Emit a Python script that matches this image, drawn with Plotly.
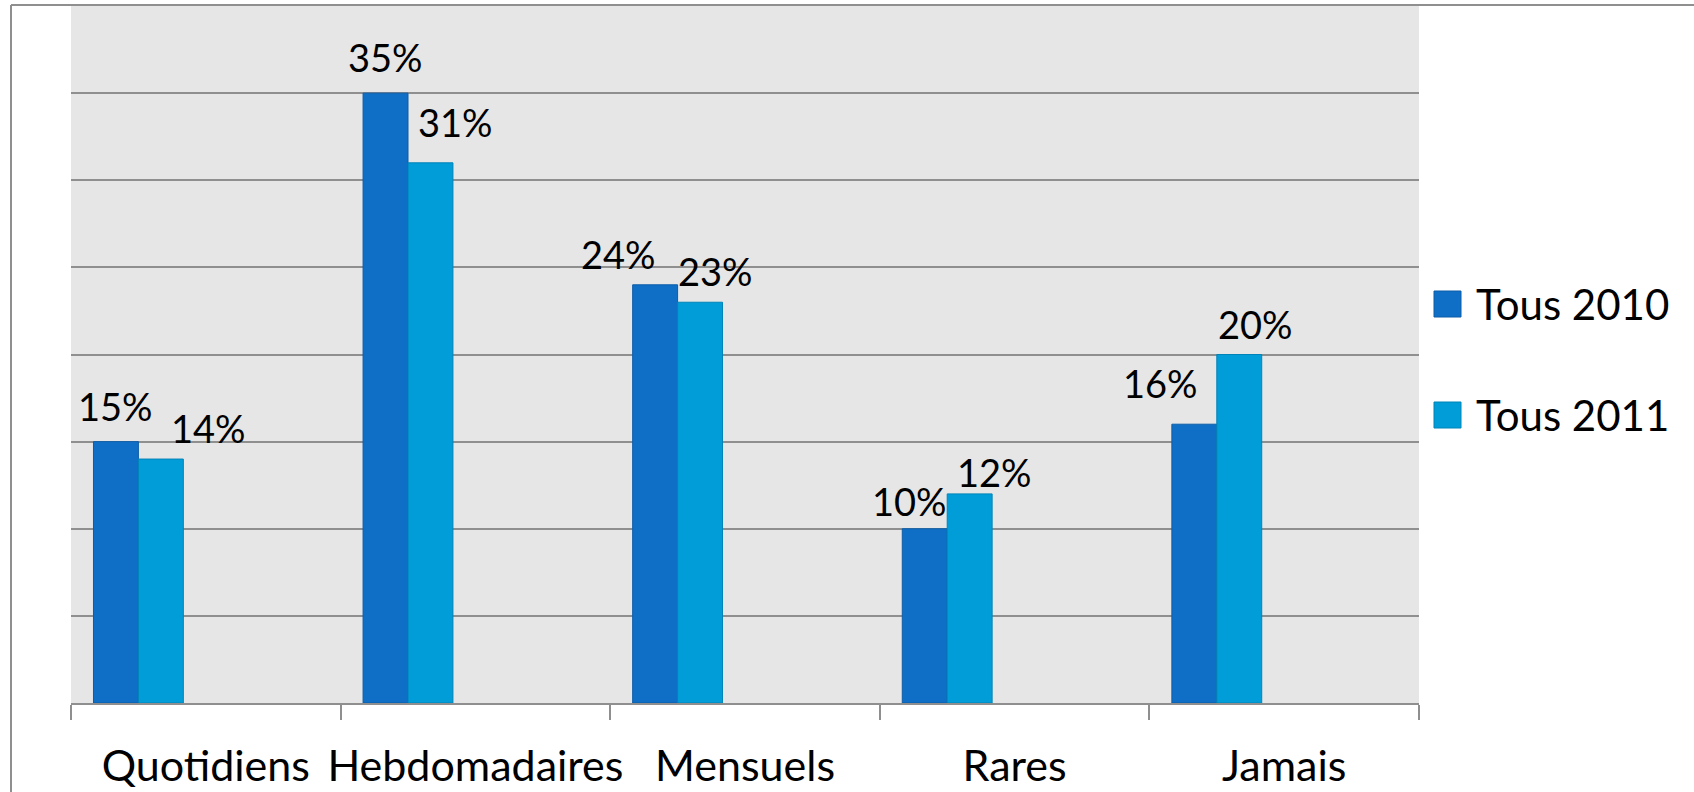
import plotly.graph_objects as go

# Fréquence de lecture, comparaison 2010 / 2011 (en %)
categories = ["Quotidiens", "Hebdomadaires", "Mensuels", "Rares", "Jamais"]
series_names = ["Tous 2010", "Tous 2011"]
values_2010 = [15, 35, 24, 10, 16]
values_2011 = [14, 31, 23, 12, 20]

# Figure geometry (pixels)
W, H = 1694, 792
L, R, T, B = 71, 1419, 6, 703

FONT = "Lato"
FS = 38
GRID = "#8F8F8F"
colors = ["#0F6FC6", "#009DD9"]
borders = ["#0C5DA8", "#0084B8"]

# bar layout: five slots per category with a 100% gap, only first two used
bar_w = 1 / 6
offsets = [-0.5 + bar_w / 2, -0.5 + bar_w / 2 + bar_w]

# manual label nudges (px) relative to bar centre / bar top
label_shift_2010 = [(0, 36), (0, 36), (-37, 31), (-15, 28), (-34, 41)]
label_shift_2011 = [(48, 31), (25, 41), (15, 31), (25, 22), (16, 31)]


def px_x(p):
    return (p - L) / (R - L)


def px_y(p):
    return (B - p) / (B - T)


fig = go.Figure()
for name, vals, col, bcol, off in zip(series_names, [values_2010, values_2011],
                                      colors, borders, offsets):
    fig.add_trace(go.Bar(
        x=categories, y=vals, name=name,
        width=bar_w, offset=off,
        marker=dict(color=col, line=dict(color=bcol, width=1)),
        showlegend=False,
    ))

annotations = []
for vals, shifts, off in [(values_2010, label_shift_2010, offsets[0]),
                          (values_2011, label_shift_2011, offsets[1])]:
    for i, (v, (dx, dy)) in enumerate(zip(vals, shifts)):
        annotations.append(dict(
            x=i + off + bar_w / 2, y=v, xref="x", yref="y",
            text=f"{v}%", showarrow=False,
            xanchor="center", yanchor="middle",
            xshift=dx, yshift=dy,
            font=dict(family=FONT, size=FS, color="black"),
        ))

# legend drawn as squares + labels on the right
legend_rows = [304, 415]
shapes = []
for name, col, bcol, cy in zip(series_names, colors, borders, legend_rows):
    shapes.append(dict(
        type="rect", xref="paper", yref="paper",
        x0=px_x(1434), x1=px_x(1461), y0=px_y(cy + 13), y1=px_y(cy - 13),
        fillcolor=col, line=dict(color=bcol, width=1),
    ))
    annotations.append(dict(
        x=px_x(1474), y=px_y(cy), xref="paper", yref="paper",
        text=name, showarrow=False, xanchor="left", yanchor="middle",
        font=dict(family=FONT, size=42, color="black"),
    ))

# outer frame (left and top edges)
shapes.append(dict(type="line", xref="paper", yref="paper",
                   x0=px_x(11), x1=px_x(11), y0=px_y(5), y1=px_y(H + 10),
                   line=dict(color=GRID, width=2)))
shapes.append(dict(type="line", xref="paper", yref="paper",
                   x0=px_x(11), x1=px_x(W + 10), y0=px_y(5), y1=px_y(5),
                   line=dict(color=GRID, width=2)))

fig.update_layout(
    width=W, height=H,
    margin=dict(l=L, r=W - R, t=T, b=H - B, pad=0, autoexpand=False),
    paper_bgcolor="white",
    plot_bgcolor="#E6E6E6",
    barmode="overlay",
    font=dict(family=FONT, size=FS, color="black"),
    annotations=annotations,
    shapes=shapes,
    showlegend=False,
)
fig.update_xaxes(
    type="category", range=[-0.5, 4.5],
    showline=True, linecolor=GRID, linewidth=2,
    ticks="outside", tickson="boundaries", ticklen=15,
    tickcolor=GRID, tickwidth=2,
    showgrid=False, zeroline=False, automargin=False,
    tickangle=0,
    tickfont=dict(family=FONT, size=43, color="black"),
    ticklabelstandoff=24,
)
fig.update_yaxes(
    range=[0, 40], dtick=5, showgrid=True, gridcolor=GRID, gridwidth=2,
    showticklabels=False, zeroline=False, showline=False, ticks="",
    automargin=False,
)

fig.write_html("out.html")
